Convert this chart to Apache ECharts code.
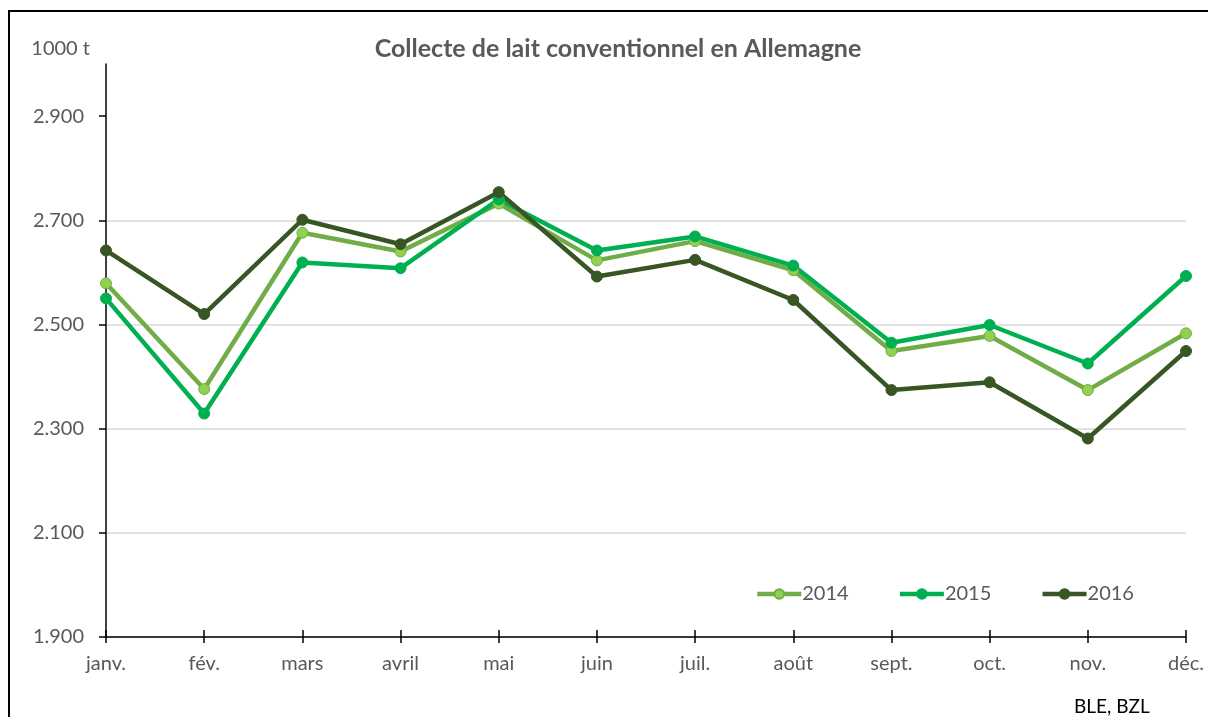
<!DOCTYPE html>
<html>
<head>
<meta charset="utf-8">
<script src="https://cdn.jsdelivr.net/npm/echarts@6/dist/echarts.min.js"></script>
<style>
html,body{margin:0;padding:0;background:#fff;overflow:hidden;}
#c{width:1208px;height:717px;position:absolute;left:0;top:0;}
#frame{position:absolute;left:8px;top:10px;width:1400px;height:900px;border:2px solid #000;pointer-events:none;box-sizing:border-box;}
</style>
</head>
<body>
<div id="c"></div>
<div id="frame"></div>
<script>
const months = ['janv.','fév.','mars','avril','mai','juin','juil.','août','sept.','oct.','nov.','déc.'];
const s2014 = [2579, 2376, 2676, 2640, 2732, 2623, 2660, 2604, 2449, 2478, 2374, 2483];
const s2015 = [2550, 2329, 2619, 2608, 2740, 2642, 2669, 2613, 2465, 2499, 2425, 2593];
const s2016 = [2642, 2520, 2701, 2654, 2754, 2592, 2624, 2547, 2374, 2389, 2281, 2449];
const yTicks = [1900, 2100, 2300, 2500, 2700, 2900];

const FONT = 'Lato, "Open Sans", sans-serif';
const chart = echarts.init(document.getElementById('c'));
function fmt(v){ return String(v).replace(/\B(?=(\d{3})+(?!\d))/g, '.'); }
function ser(name, data, lineColor, markColor){
  return {
    name: name, type: 'line', data: data, xAxisIndex: 0,
    symbol: 'circle', symbolSize: 11,
    lineStyle: {width: 4.5, color: lineColor},
    itemStyle: {color: markColor, borderColor: lineColor, borderWidth: 1},
    emphasis: {disabled: true}
  };
}
chart.setOption({
  animation: false,
  title: [{
    text: 'Collecte de lait conventionnel en Allemagne',
    left: 613, textAlign: 'center', top: 31,
    textStyle: {fontFamily: FONT, fontSize: 25, fontWeight: 'bold', color: '#595959'}
  },{
    text: 'BLE, BZL', left: 1069, top: 692,
    textStyle: {fontFamily: FONT, fontSize: 19, fontWeight: 'normal', color: '#000'}
  }],
  legend: {
    left: 755, top: 584, padding: 0, itemWidth: 44, itemHeight: 12, itemGap: 49,
    lineStyle: {width: 4.5},
    textStyle: {fontFamily: FONT, fontSize: 20, color: '#595959', padding: [0,0,0,-4]},
    data: ['2014','2015','2016']
  },
  grid: {left: 106, right: 22, top: 64, bottom: 80},
  xAxis: [{
    type: 'category', data: months, boundaryGap: false,
    axisLine: {lineStyle: {color: '#000', width: 1.5}},
    axisTick: {show: true, length: 6, lineStyle: {color: '#000', width: 1.5}},
    axisLabel: {fontFamily: FONT, fontSize: 20, color: '#595959', margin: 17},
    splitLine: {show: false}
  },{
    type: 'category', data: months, boundaryGap: false, position: 'bottom',
    axisLine: {show: false},
    axisTick: {show: true, inside: true, length: 7, lineStyle: {color: '#000', width: 1.5}},
    axisLabel: {show: false},
    splitLine: {show: false}
  }],
  yAxis: {
    type: 'value', min: 1900, max: 3000, interval: 200,
    name: '1000 t', nameLocation: 'end', nameGap: 5,
    nameTextStyle: {fontFamily: FONT, fontSize: 20, color: '#595959', align: 'right', padding: [0, 16, 0, 0]},
    axisLine: {show: true, lineStyle: {color: '#000', width: 1.5}},
    axisTick: {show: true, length: 7, lineStyle: {color: '#000', width: 1.5}, customValues: yTicks},
    axisLabel: {fontFamily: FONT, fontSize: 20, color: '#595959', margin: 22, customValues: yTicks, formatter: fmt},
    splitLine: {show: true, showMaxLine: false, lineStyle: {color: '#d9d9d9', width: 1.5}}
  },
  series: [
    ser('2014', s2014, '#70AD47', '#92D050'),
    ser('2015', s2015, '#00B050', '#00B050'),
    ser('2016', s2016, '#375623', '#375623')
  ]
});
</script>
</body>
</html>
